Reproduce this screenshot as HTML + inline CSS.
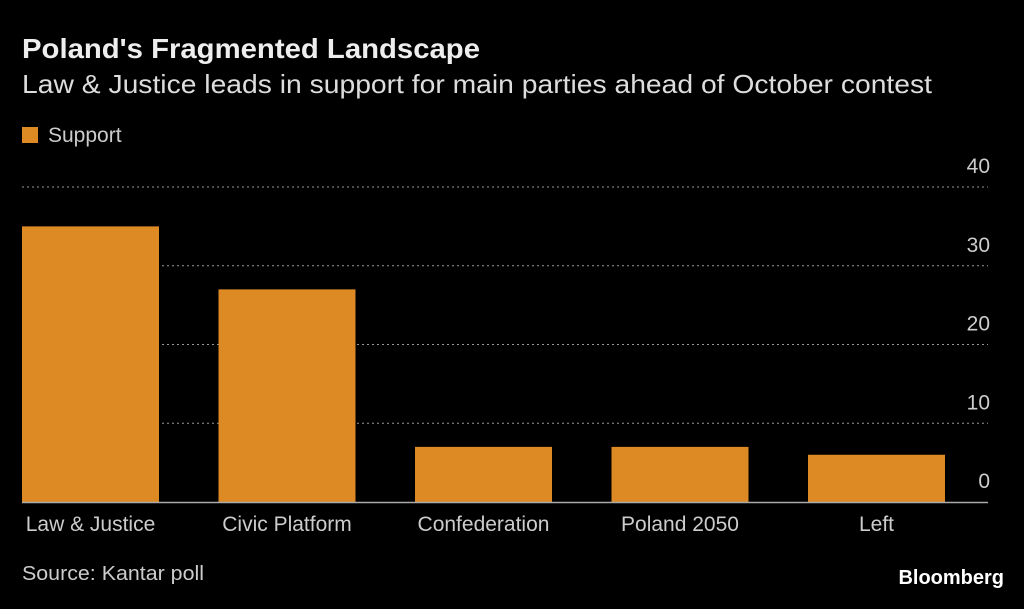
<!DOCTYPE html>
<html><head><meta charset="utf-8"><style>
body{margin:0;background:#000;width:1024px;height:604px;overflow:hidden;font-family:"Liberation Sans",sans-serif}
</style></head><body>
<svg id="c" width="1024" height="604" xmlns="http://www.w3.org/2000/svg">
<text x="22" y="58" fill="#eee" font-size="28" font-weight="bold" textLength="458" lengthAdjust="spacingAndGlyphs">Poland's Fragmented Landscape</text>
<text x="22" y="93" fill="#ddd" font-size="26" textLength="910" lengthAdjust="spacingAndGlyphs">Law &amp; Justice leads in support for main parties ahead of October contest</text>
<rect x="22" y="127" width="16" height="16" fill="#DD8A24"/>
<text x="48" y="142" fill="#ccc" font-size="21">Support</text>
<text x="22" y="580" fill="#ccc" font-size="20" textLength="182" lengthAdjust="spacingAndGlyphs">Source: Kantar poll</text>
<text x="1004" y="584" fill="#fff" font-size="20" font-weight="bold" text-anchor="end">Bloomberg</text>
<g id="grid"></g><g id="bars"></g><g id="labels"></g>
</svg>
<script>
const categories=["Law & Justice","Civic Platform","Confederation","Poland 2050","Left"];
const support=[35,27,7,7,6];
const ticks=[0,10,20,30,40];
const ns="http://www.w3.org/2000/svg";
const y0=502,pxPer=7.875,left=22,right=988,pitch=196.5,bw=137;
const y=v=>y0-v*pxPer;
const x=i=>left+i*pitch;
function mk(t,a){const e=document.createElementNS(ns,t);for(const k in a)e.setAttribute(k,a[k]);return e;}
const grid=document.getElementById('grid'),bars=document.getElementById('bars'),labels=document.getElementById('labels');
ticks.forEach(t=>{
  if(t>0){const l=mk('line',{x1:left,x2:right,y1:y(t),y2:y(t),stroke:'#999','stroke-dasharray':'2,3','stroke-width':1});
  
  
  grid.appendChild(l);}
  const tx=mk('text',{x:990,y:y(t)-14,fill:'#ccc','font-size':21,'text-anchor':'end'});
  tx.textContent=t;
  
  
  grid.appendChild(tx);
});
support.forEach((v,i)=>{
  const r=mk('rect',{x:x(i),y:y(v),width:bw,height:v*pxPer,fill:'#DD8A24'});
  
  
  bars.appendChild(r);
  const t=mk('text',{x:x(i)+bw/2,y:531,fill:'#ccc','font-size':21,'text-anchor':'middle'});
  t.textContent=categories[i];
  
  
  labels.appendChild(t);
});
const base=mk('line',{x1:left,x2:right,y1:y0+0.5,y2:y0+0.5,stroke:'#aaa','stroke-width':1.5});


bars.appendChild(base);
</script>
</body></html>
